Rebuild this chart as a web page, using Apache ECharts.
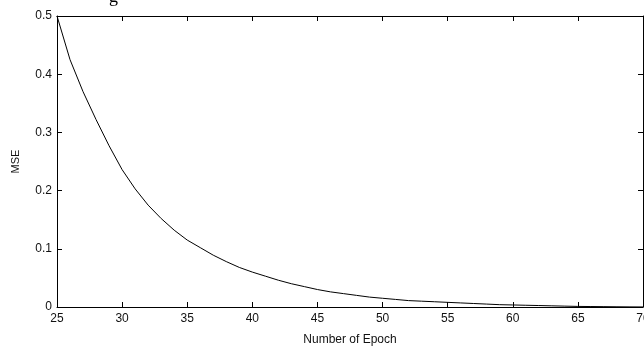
<!DOCTYPE html>
<html><head><meta charset="utf-8">
<script src="https://cdn.jsdelivr.net/npm/echarts@6/dist/echarts.min.js"></script>
<style>html,body{margin:0;padding:0;background:#fff}#c{width:644px;height:349px}</style>
</head><body><div id="c"></div>
<script>
const epochs = [25,26,27,28,29,30,31,32,33,34,35,36,37,38,39,40,41,42,43,44,45,46,47,48,49,50,51,52,53,54,55,56,57,58,59,60,61,62,63,64,65,66,67,68,69,70];
const mse = [0.500,0.425,0.370,0.322,0.277,0.236,0.203,0.175,0.152,0.132,0.115,0.102,0.089,0.078,0.068,0.060,0.053,0.046,0.040,0.035,0.030,0.026,0.023,0.020,0.017,0.015,0.013,0.011,0.010,0.009,0.008,0.007,0.006,0.005,0.004,0.0035,0.003,0.0025,0.002,0.0015,0.001,0.0008,0.0006,0.0004,0.0002,0.0001];
const xTitle = 'Number of Epoch';
const yTitle = 'MSE';

const chart = echarts.init(document.getElementById('c'), null, {renderer:'canvas'});
const font = 'Liberation Sans, Arial, sans-serif';
const axLine = {show:true, onZero:false, lineStyle:{color:'#000', width:1}};
const tick = {show:true, inside:true, length:5, lineStyle:{color:'#000', width:1}};
chart.setOption({
  animation:false,
  backgroundColor:'#fff',
  grid:{left:57, top:16, right:1, bottom:42, containLabel:false, outerBoundsMode:'none'},
  graphic:[{type:'text', left:109, top:-12, style:{text:'g', font:'18px "Liberation Serif", serif', fill:'#000'}}],
  xAxis:[
    {type:'value', min:25, max:70, interval:5, position:'bottom',
     name:xTitle, nameLocation:'middle', nameGap:27,
     nameTextStyle:{fontFamily:font, fontSize:12, color:'#111'},
     axisLine:axLine, axisTick:tick, splitLine:{show:false},
     axisLabel:{margin:6, fontFamily:font, fontSize:12, color:'#111', hideOverlap:false}},
    {type:'value', min:25, max:70, interval:5, position:'top',
     axisLine:axLine, axisTick:tick, splitLine:{show:false}, axisLabel:{show:false}}
  ],
  yAxis:[
    {type:'value', min:0, max:0.5, interval:0.1, position:'left',
     name:yTitle, nameLocation:'middle', nameGap:36, nameRotate:90,
     nameTextStyle:{fontFamily:font, fontSize:11, color:'#111'},
     axisLine:axLine, axisTick:tick, splitLine:{show:false},
     axisLabel:{margin:5, fontFamily:font, fontSize:12, color:'#111',
       formatter:v=> v===0 ? '0' : v.toFixed(1)}},
    {type:'value', min:0, max:0.5, interval:0.1, position:'right',
     axisLine:axLine, axisTick:tick, splitLine:{show:false}, axisLabel:{show:false}}
  ],
  series:[{type:'line', xAxisIndex:0, yAxisIndex:0, data:epochs.map((e,i)=>[e,mse[i]]),
    showSymbol:false, smooth:false, lineStyle:{color:'#000', width:1}}]
});
</script></body></html>
